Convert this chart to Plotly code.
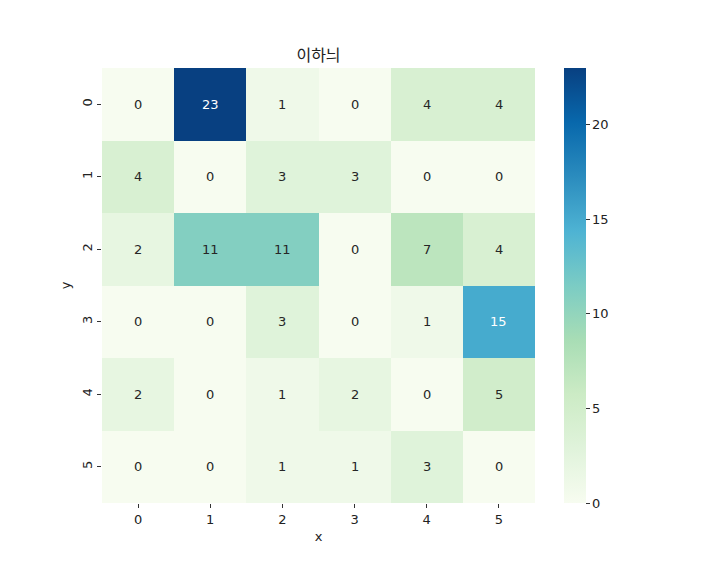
import plotly.graph_objects as go

x_labels = ["0", "1", "2", "3", "4", "5"]
y_labels = ["0", "1", "2", "3", "4", "5"]
values = [
    [0, 23, 1, 0, 4, 4],
    [4, 0, 3, 3, 0, 0],
    [2, 11, 11, 0, 7, 4],
    [0, 0, 3, 0, 1, 15],
    [2, 0, 1, 2, 0, 5],
    [0, 0, 1, 1, 3, 0],
]
title_text = "이하늬"

gnbu = [
    [0.0, "#f7fcf0"], [0.125, "#e0f3db"], [0.25, "#ccebc5"], [0.375, "#a8ddb5"],
    [0.5, "#7bccc4"], [0.625, "#4eb3d3"], [0.75, "#2b8cbe"], [0.875, "#0868ac"],
    [1.0, "#084081"],
]
FONT = "DejaVu Sans, Noto Sans CJK KR, sans-serif"
TFONT = "Noto Sans CJK KR, sans-serif"
vmin, vmax = 0, 23

fig = go.Figure(go.Heatmap(
    z=values, x=x_labels, y=y_labels, colorscale=gnbu, zmin=vmin, zmax=vmax,
    xgap=0, ygap=0,
    colorbar=dict(thickness=22, len=1.0, lenmode="fraction", x=1.067, xanchor="left",
                  xpad=0, ypad=0,
                  y=0.5, yanchor="middle", outlinewidth=0,
                  tickvals=[0, 5, 10, 15, 20], ticks="outside", ticklen=4,
                  tickcolor="#333", tickfont=dict(family=FONT, size=13, color="#222")),
))

annotations = []
for i, row in enumerate(values):
    for j, v in enumerate(row):
        color = "white" if v / vmax > 0.6 else "#262626"
        annotations.append(dict(x=x_labels[j], y=y_labels[i], text=str(v), showarrow=False,
                                font=dict(family=FONT, size=13, color=color)))

fig.update_layout(
    width=720, height=576,
    margin=dict(l=102, r=185, t=68, b=73),
    paper_bgcolor="white", plot_bgcolor="white",
    title=dict(text=title_text, x=(102 + 535) / 2 / 720, xanchor="center", y=1 - 55 / 576,
               yanchor="middle", font=dict(family=TFONT, size=16, color="#222")),
    annotations=annotations,
    xaxis=dict(title=dict(text="x", font=dict(family=FONT, size=13, color="#222"), standoff=6),
               ticks="outside", ticklen=4, tickcolor="#333", showgrid=False, zeroline=False,
               tickfont=dict(family=FONT, size=13, color="#222"), showline=False),
    yaxis=dict(title=dict(text="y", font=dict(family=FONT, size=13, color="#222"), standoff=6),
               autorange="reversed", ticks="outside", ticklen=4, tickcolor="#333",
               tickangle=-90, showgrid=False, zeroline=False,
               tickfont=dict(family=FONT, size=13, color="#222"), showline=False),
)

fig.write_html("out.html")
